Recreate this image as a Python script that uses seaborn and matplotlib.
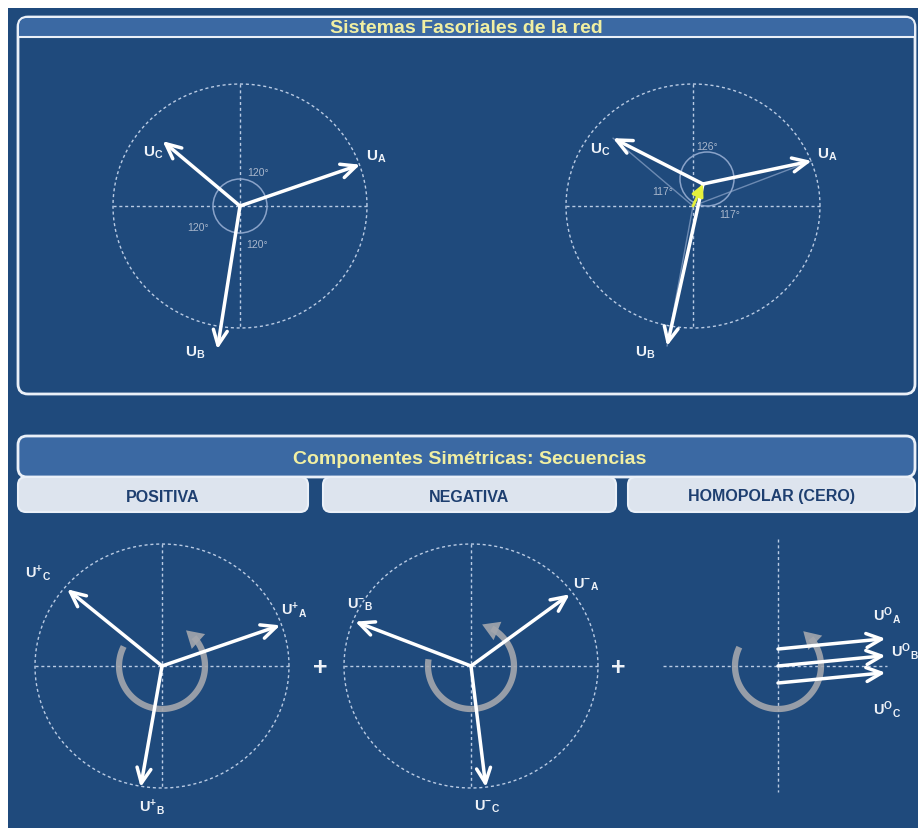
import numpy as np
import pandas as pd
import matplotlib
matplotlib.use('Agg')
import matplotlib.pyplot as plt
from matplotlib.patches import FancyBboxPatch, Rectangle, Ellipse
import seaborn as sns

sns.set_theme(style='white')
plt.rcParams['font.family'] = ['Liberation Sans', 'DejaVu Sans']
plt.rcParams['mathtext.fontset'] = 'custom'
plt.rcParams['mathtext.rm'] = 'Liberation Sans:bold'
plt.rcParams['mathtext.bf'] = 'Liberation Sans:bold'
plt.rcParams['mathtext.it'] = 'Liberation Sans:bold'

# ---------------- datos (angulo en grados, modulo en px) ----------------
fases = ['A', 'B', 'C']

# red equilibrada
sim_ang = [19, 261, 140]
sim_mag = [127, 145, 101]
sim_txt = ['120°', '120°', '120°']

# red desequilibrada (neutro desplazado)
des_ang = [12, 257.5, 153]
des_mag = [111, 166, 101]
des_neutro = [10, 22]
des_txt = ['126°', '117°', '117°']

# secuencias
pos_ang = [19, 260, 141]
pos_mag = [125, 123, 122]
neg_ang = [36, 159, 277]
neg_mag = [122, 124, 122]
cero_ang = [5.5, 5.5, 5.5]
cero_mag = [108, 108, 108]

# sentido de giro (inicio, fin del arco)
giro_ini = [153, 171, 154]
giro_fin = [416, 435, 414]

secuencias = ['POSITIVA', 'NEGATIVA', 'HOMOPOLAR (CERO)']

# ---------------- estilo ----------------
W, H = 918, 829
NAVY = '#1f4a7c'
HEAD = '#3b69a3'
TAB = '#dde4ee'
LINE = '#eaf0f8'
GRID = '#b9cbe4'
GRIS = '#a4a7ad'
TITLE_FONT = ['Liberation Sans Narrow', 'Liberation Sans', 'DejaVu Sans']

fig = plt.figure(figsize=(W / 100, H / 100), dpi=100, facecolor='white')
ax = fig.add_axes([0, 0, 1, 1])

ax.add_patch(Rectangle((8, 9), W - 8, H - 9, fc=NAVY, ec='none', zorder=0))

# panel superior
ax.add_patch(FancyBboxPatch((18, 18), 897, 377, boxstyle='round,pad=0,rounding_size=10',
                            fc=NAVY, ec=LINE, lw=2, zorder=1))
ax.add_patch(FancyBboxPatch((19, 19), 895, 18, boxstyle='round,pad=0,rounding_size=8',
                            fc=HEAD, ec='none', zorder=1))
ax.add_patch(Rectangle((19, 28), 895, 9, fc=HEAD, ec='none', zorder=1))
ax.plot([18, 915], [37.5, 37.5], color=LINE, lw=1.5, zorder=2)
ax.text(466, 28, 'Sistemas Fasoriales de la red', ha='center', va='center', fontsize=14,
        fontweight='bold', color='#f1efa2', family=TITLE_FONT, zorder=3)

# panel inferior
ax.add_patch(FancyBboxPatch((18, 437), 897, 41, boxstyle='round,pad=0,rounding_size=9',
                            fc=HEAD, ec=LINE, lw=2, zorder=1))
ax.text(470, 459, 'Componentes Simétricas: Secuencias', ha='center', va='center', fontsize=14,
        fontweight='bold', color='#f1efa2', family=TITLE_FONT, zorder=3)
tabs = [(18, 308), (323, 616), (628, 915)]
for (x0, x1), nombre in zip(tabs, secuencias):
    ax.add_patch(FancyBboxPatch((x0, 478), x1 - x0, 35, boxstyle='round,pad=0,rounding_size=8',
                                fc=TAB, ec=LINE, lw=1.5, zorder=2))
    ax.text((x0 + x1) / 2, 497, nombre, ha='center', va='center', fontsize=11.5,
            fontweight='bold', color='#1e3f70', family=TITLE_FONT, zorder=3)

# ---------------- rejillas punteadas (seaborn) ----------------
centros = {'sim': (240, 207), 'des': (693, 207), 'pos': (162, 667),
           'neg': (471, 667), 'cero': (778, 667)}
rx, ry = 127, 122
t = np.linspace(0, 2 * np.pi, 240)
filas = []
gid = 0
for k in ['sim', 'des', 'pos', 'neg']:
    cx, cy = centros[k]
    for xx, yy in zip(cx + rx * np.cos(t), cy - ry * np.sin(t)):
        filas.append((gid, xx, yy))
    gid += 1
    filas += [(gid, cx - rx, cy), (gid, cx + rx, cy)]
    gid += 1
    filas += [(gid, cx, cy - ry), (gid, cx, cy + ry)]
    gid += 1
cx, cy = centros['cero']
filas += [(gid, cx - 115, cy), (gid, cx + 109, cy)]
gid += 1
filas += [(gid, cx, cy - 127), (gid, cx, cy + 126)]
rejilla = pd.DataFrame(filas, columns=['id', 'x', 'y'])
sns.lineplot(data=rejilla, x='x', y='y', units='id', estimator=None, sort=False,
             color=GRID, lw=1, linestyle=(0, (2.2, 2)), legend=False, ax=ax, zorder=2)


def punta(x0, y0, ang, mag):
    a = np.radians(ang)
    return x0 + mag * np.cos(a), y0 - mag * np.sin(a)


def fasor(x0, y0, ang, mag, color='white', lw=2.5, z=5):
    x1, y1 = punta(x0, y0, ang, mag)
    ax.annotate('', xy=(x1, y1), xytext=(x0, y0), zorder=z,
                arrowprops=dict(arrowstyle='->,head_length=0.9,head_width=0.42',
                                color=color, lw=lw, shrinkA=0, shrinkB=0))


def giro(cx, cy, a0, a1, r=43):
    th = np.radians(np.linspace(a0, a1 - 14, 80))
    ax.plot(cx + r * np.cos(th), cy - r * np.sin(th), color=GRIS, lw=4.5, alpha=0.9,
            solid_capstyle='butt', zorder=3)
    xa, ya = cx + r * np.cos(np.radians(a1 - 16)), cy - r * np.sin(np.radians(a1 - 16))
    xb, yb = cx + r * np.cos(np.radians(a1)), cy - r * np.sin(np.radians(a1))
    ax.annotate('', xy=(xb, yb), xytext=(xa, ya), zorder=3,
                arrowprops=dict(arrowstyle='-|>,head_length=1.0,head_width=0.6',
                                color=GRIS, lw=0, alpha=0.9, shrinkA=0, shrinkB=0))


def etiqueta(x, y, s, size=11):
    ax.text(x, y, s, ha='center', va='center', fontsize=size, color='#eef2f8', zorder=6)


# ---------------- red equilibrada ----------------
cx, cy = centros['sim']
ax.add_patch(Ellipse((cx, cy), 54, 54, fill=False, ec='#8aa3c9', lw=1.1, zorder=3))
for ang, mag in zip(sim_ang, sim_mag):
    fasor(cx, cy, ang, mag)
for (x, y), s in zip([(258, 173), (198, 228), (257, 245)], sim_txt):
    ax.text(x, y, s, ha='center', va='center', fontsize=7.5, color='#a9b7cc', zorder=4)
for (x, y), f in zip([(376, 157), (195, 353), (153, 153)], fases):
    etiqueta(x, y, r'$\mathbf{U}_{\mathbf{%s}}$' % f)

# ---------------- red desequilibrada ----------------
cx, cy = centros['des']
nx, ny = cx + des_neutro[0], cy - des_neutro[1]
ax.add_patch(Ellipse((nx + 4, ny - 5), 54, 54, fill=False, ec='#8aa3c9', lw=1.1, zorder=3))
for ang, mag in zip(des_ang, des_mag):
    x1, y1 = punta(nx, ny, ang, mag)
    ax.plot([cx, x1], [cy, y1], color='#8ea6ca', lw=1, alpha=0.7, zorder=3)
    fasor(nx, ny, ang, mag)
ax.annotate('', xy=(nx, ny), xytext=(cx, cy), zorder=6,
            arrowprops=dict(arrowstyle='-|>,head_length=0.6,head_width=0.3',
                            color='#e4f03c', lw=2, shrinkA=0, shrinkB=0))
for (x, y), s in zip([(707, 147), (663, 192), (730, 215)], des_txt):
    ax.text(x, y, s, ha='center', va='center', fontsize=7.5, color='#a9b7cc', zorder=4)
for (x, y), f in zip([(827, 155), (645, 353), (600, 150)], fases):
    etiqueta(x, y, r'$\mathbf{U}_{\mathbf{%s}}$' % f)

# ---------------- secuencia positiva ----------------
cx, cy = centros['pos']
giro(cx, cy, giro_ini[0], giro_fin[0])
for ang, mag in zip(pos_ang, pos_mag):
    fasor(cx, cy, ang, mag)
for (x, y), f in zip([(294, 610), (152, 807), (38, 573)], fases):
    etiqueta(x, y, r'$\mathbf{U^{+}{}_{%s}}$' % f, 10.5)

# ---------------- secuencia negativa ----------------
cx, cy = centros['neg']
giro(cx, cy, giro_ini[1], giro_fin[1])
for ang, mag in zip(neg_ang, neg_mag):
    fasor(cx, cy, ang, mag)
for (x, y), f in zip([(586, 585), (360, 605), (487, 807)], fases):
    etiqueta(x, y, r'$\mathbf{U^{-}{}_{%s}}$' % f, 10.5)

# ---------------- secuencia homopolar ----------------
cx, cy = centros['cero']
giro(cx, cy, giro_ini[2], giro_fin[2])
for i, (ang, mag) in enumerate(zip(cero_ang, cero_mag)):
    fasor(cx, cy + (i - 1) * 17, ang, mag)
for (x, y), f in zip([(887, 615), (905, 652), (887, 710)], fases):
    etiqueta(x, y, r'$\mathbf{U^{O}{}_{%s}}$' % f, 10.5)

for x in [320, 618]:
    ax.text(x, 668, '+', ha='center', va='center', fontsize=18, fontweight='bold',
            color='#eef2f8', zorder=6)

ax.set_xlim(0, W)
ax.set_ylim(H, 0)
ax.set_axis_off()
fig.savefig('out.png', dpi=100, facecolor='white')
